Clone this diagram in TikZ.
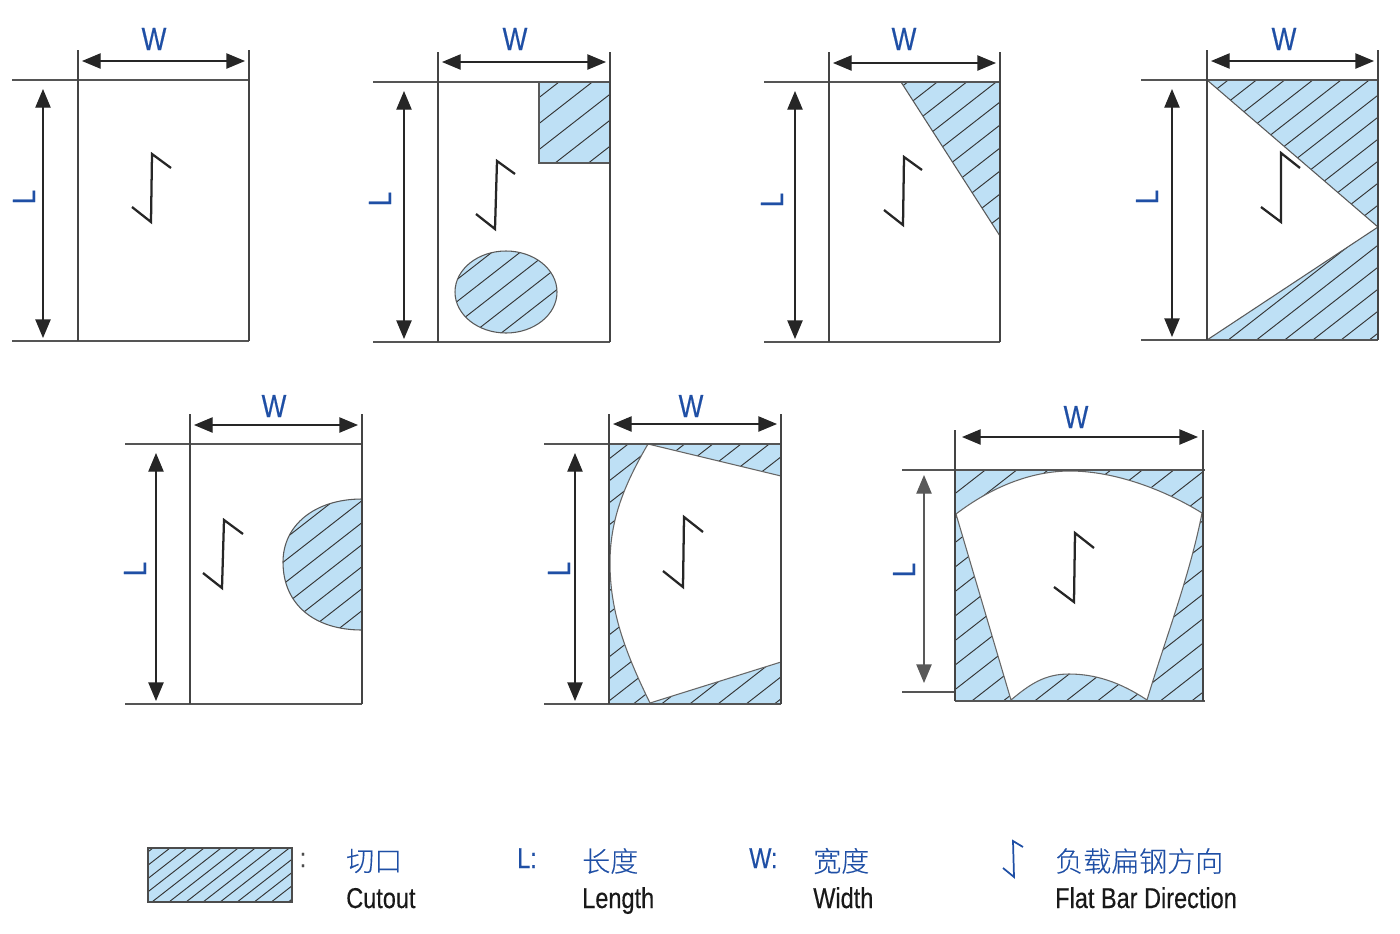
\documentclass[tikz,border=0pt]{standalone}
\usepackage{fontspec}
\setmainfont[FakeStretch=0.82]{Liberation Sans}
\newfontfamily\legf[FakeStretch=0.82,FakeBold=0.35]{Liberation Sans}
\newfontfamily\cjkf[FakeBold=0.25]{Noto Sans CJK SC Light}
\usetikzlibrary{arrows.meta}
\definecolor{cutblue}{HTML}{BEE0F5}
\definecolor{labelblue}{HTML}{1F4FA5}
\definecolor{framegray}{HTML}{555555}
\tikzset{
  framev/.style={draw=framegray!80!black,line width=1.2pt},
  frameh/.style={draw=framegray,line width=1.2pt},
  dimtips/.style={{Triangle[length=14pt,width=11.5pt]}-{Triangle[length=14pt,width=11.5pt]}},
  dimline/.style={draw=black!85,line width=1pt,dimtips},
  dimgray/.style={draw=black!65,line width=1pt,dimtips},
  zmark/.style={draw=black!85,line width=1.7pt,line join=miter},
  hatchline/.style={draw=black!80,line width=.7pt},
  cutedge/.style={draw=black!65,line width=.8pt},
  whitefan/.style={fill=white,draw=black!60,line width=.8pt},
  dimlabel/.style={text=labelblue,font=\legf\fontsize{24}{24}\selectfont,inner sep=0pt},
  dimlabelr/.style={dimlabel,rotate=90},
  legcn/.style={text=labelblue,font=\cjkf\fontsize{21}{21}\selectfont,inner sep=0pt,anchor=west},
  legen/.style={text=black!90,font=\legf\fontsize{21.5}{21.5}\selectfont,inner sep=0pt,anchor=base west},
  legkey/.style={text=labelblue,font=\legf\fontsize{21.5}{21.5}\selectfont,inner sep=0pt,anchor=base west},
}
% hatch: #1 path, #2 vertical spacing, #3 phase
\newcommand{\hatched}[3]{%
  \begin{scope}
    \clip #1;
    \fill[cutblue] (0,0) rectangle (1400,933);
    \foreach \k in {0,...,100}{
      \pgfmathsetmacro{\cc}{#3+\k*#2}
      \draw[hatchline] (0,\cc) -- (1400,\cc-1092);
    }
  \end{scope}}
\newcommand{\panelframe}[9]{%
  \coordinate (#1tl) at (#2,#4); \coordinate (#1tr) at (#3,#4);
  \coordinate (#1bl) at (#2,#5); \coordinate (#1br) at (#3,#5);
  \coordinate (#1xt) at (#6,#4); \coordinate (#1xb) at (#6,#5);
  \coordinate (#1vl) at (#2,#7); \coordinate (#1vr) at (#3,#7);
  \coordinate (#1wa) at ({#2+4},#8); \coordinate (#1wb) at ({#3-4},#8);
  \coordinate (#1la) at (#9,{#4+9}); \coordinate (#1lb) at (#9,{#5-3});
  \draw[frameh] (#1xt) -- (#1tr);
  \draw[frameh] (#1xb) -- (#1br);
  \draw[framev] (#1vl) -- (#1bl);
  \draw[framev] (#1vr) -- (#1br);
  \draw[dimline] (#1wa) -- (#1wb);
  \draw[dimline] (#1la) -- (#1lb);
}
\newcommand{\zm}[9]{\draw[zmark] (#2,#3) coordinate (#1a) -- (#4,#5) coordinate (#1b) -- (#6,#7) coordinate (#1c) -- (#8,#9) coordinate (#1d);}
\begin{document}
\begin{tikzpicture}[x=.75pt,y=-.75pt]
\useasboundingbox (0,0) rectangle (1400,933);
% ---- panel 1
\panelframe{a}{78}{249}{80}{341}{12}{50}{61}{43}
\node[dimlabel] (aw) at (154,39) {W};
\node[dimlabelr] (al) at (24,197) {L};
\zm{az}{132}{207}{151}{222}{152}{154}{171}{168}
% ---- panel 2
\hatched{(539,82) rectangle (610,163)}{26}{24}
\hatched{(506,292) ellipse [x radius=51,y radius=41]}{22}{20}
\draw[cutedge] (539,82) -- (539,163) -- (610,163);
\draw[cutedge] (506,292) ellipse [x radius=51,y radius=41];
\panelframe{b}{438}{610}{82}{342}{373}{52}{62}{404}
\node[dimlabel] (bw) at (515,39) {W};
\node[dimlabelr] (bl) at (380,199) {L};
\zm{bz}{476}{214}{495}{229}{497}{161}{515}{174}
% ---- panel 3
\hatched{(901,82) -- (1000,82) -- (1000,236) -- cycle}{23}{8}
\draw[cutedge] (901,82) -- (1000,236);
\panelframe{c}{829}{1000}{82}{342}{764}{52}{63}{795}
\node[dimlabel] (cw) at (904,39) {W};
\node[dimlabelr] (cl) at (772,200) {L};
\zm{cz}{884}{210}{903}{225}{904}{157}{922}{170}
% ---- panel 4
\hatched{(1207,80) -- (1378,80) -- (1378,227) -- cycle}{22}{4}
\hatched{(1378,227) -- (1378,340) -- (1207,340) -- cycle}{22}{0}
\draw[cutedge] (1207,80) -- (1378,227) -- (1207,340);
\panelframe{d}{1207}{1378}{80}{340}{1141}{50}{61}{1172}
\node[dimlabel] (dw) at (1284,39) {W};
\node[dimlabelr] (dl) at (1147,197) {L};
\zm{dz}{1261}{207}{1281}{222}{1281}{153}{1300}{168}
% ---- panel 5
\hatched{(362,499) .. controls (315,499) and (283,525) .. (283,562) .. controls (283,605) and (315,630) .. (362,630) -- cycle}{22}{13}
\draw[cutedge] (362,499) .. controls (315,499) and (283,525) .. (283,562) .. controls (283,605) and (315,630) .. (362,630);
\panelframe{e}{190}{362}{444}{704}{125}{414}{425}{156}
\node[dimlabel] (ew) at (274,406) {W};
\node[dimlabelr] (el) at (135,569) {L};
\zm{ez}{203}{573}{222}{588}{224}{520}{243}{534}
% ---- panel 6
\hatched{(609,444) rectangle (781,704)}{22}{10}
\filldraw[whitefan] (648,444) -- (781,476) -- (781,662) -- (650,703) .. controls (624,650) and (610,610) .. (610,563) .. controls (610,520) and (624,485) .. (648,444) -- cycle;
\panelframe{f}{609}{781}{444}{704}{544}{414}{424}{575}
\node[dimlabel] (fw) at (691,406) {W};
\node[dimlabelr] (fl) at (559,569) {L};
\zm{fz}{663}{571}{683}{587}{684}{517}{703}{532}
% ---- panel 7
\hatched{(955,470) rectangle (1203,701)}{24.5}{13.5}
\filldraw[whitefan] (956,514) .. controls (990,488) and (1030,471) .. (1070,471) .. controls (1115,471) and (1165,490) .. (1202,513) .. controls (1190,575) and (1165,640) .. (1147,700) .. controls (1120,682) and (1095,674) .. (1069,674) .. controls (1045,674) and (1030,684) .. (1011,700) -- cycle;
\coordinate (gtl) at (955,470); \coordinate (gtr) at (1205,470);
\coordinate (gbl) at (955,701); \coordinate (gbr) at (1205,701);
\coordinate (gxt) at (902,470); \coordinate (gxb) at (902,692); \coordinate (gxc) at (955,692);
\coordinate (gvl) at (955,430); \coordinate (gvr) at (1203,430); \coordinate (gvb) at (1203,701);
\coordinate (gwa) at (962,437); \coordinate (gwb) at (1198,437);
\coordinate (gla) at (924,475); \coordinate (glb) at (924,683);
\draw[frameh] (gxt) -- (gtr);
\draw[frameh] (gxb) -- (gxc);
\draw[frameh] (gbl) -- (gbr);
\draw[framev] (gvl) -- (gbl);
\draw[framev] (gvr) -- (gvb);
\draw[dimline] (gwa) -- (gwb);
\draw[dimgray] (gla) -- (glb);
\node[dimlabel] (gw) at (1076,417) {W};
\node[dimlabelr] (gl) at (904,570) {L};
\zm{gz}{1054}{587}{1074}{602}{1075}{533}{1094}{548}
% ---- legend
\hatched{(148,848) rectangle (292,902)}{13.3}{9.7}
\draw[draw=black!70,line width=1.4pt] (148,848) rectangle (292,902);
\node[text=black!70,font=\legf\fontsize{20}{20}\selectfont,inner sep=0pt] (colon) at (303,860) {:};
\node[legcn] (cutcn) at (346,861) {切口};
\node[legen] (cuten) at (346,908) {Cutout};
\node[legkey] (lkey) at (517,868) {L:};
\node[legcn] (lencn) at (582,861) {长度};
\node[legen] (lenen) at (582,908) {Length};
\node[legkey] (wkey) at (749,868) {W:};
\node[legcn] (widcn) at (813,861) {宽度};
\node[legen] (widen) at (813,908) {Width};
\draw[draw=labelblue,line width=1.3pt] (1003,868) -- (1014,877) -- (1013,841) -- (1023,847);
\node[legcn] (dircn) at (1055,861) {负载扁钢方向};
\node[legen] (diren) at (1055,908) {Flat Bar Direction};
\end{tikzpicture}
\end{document}
